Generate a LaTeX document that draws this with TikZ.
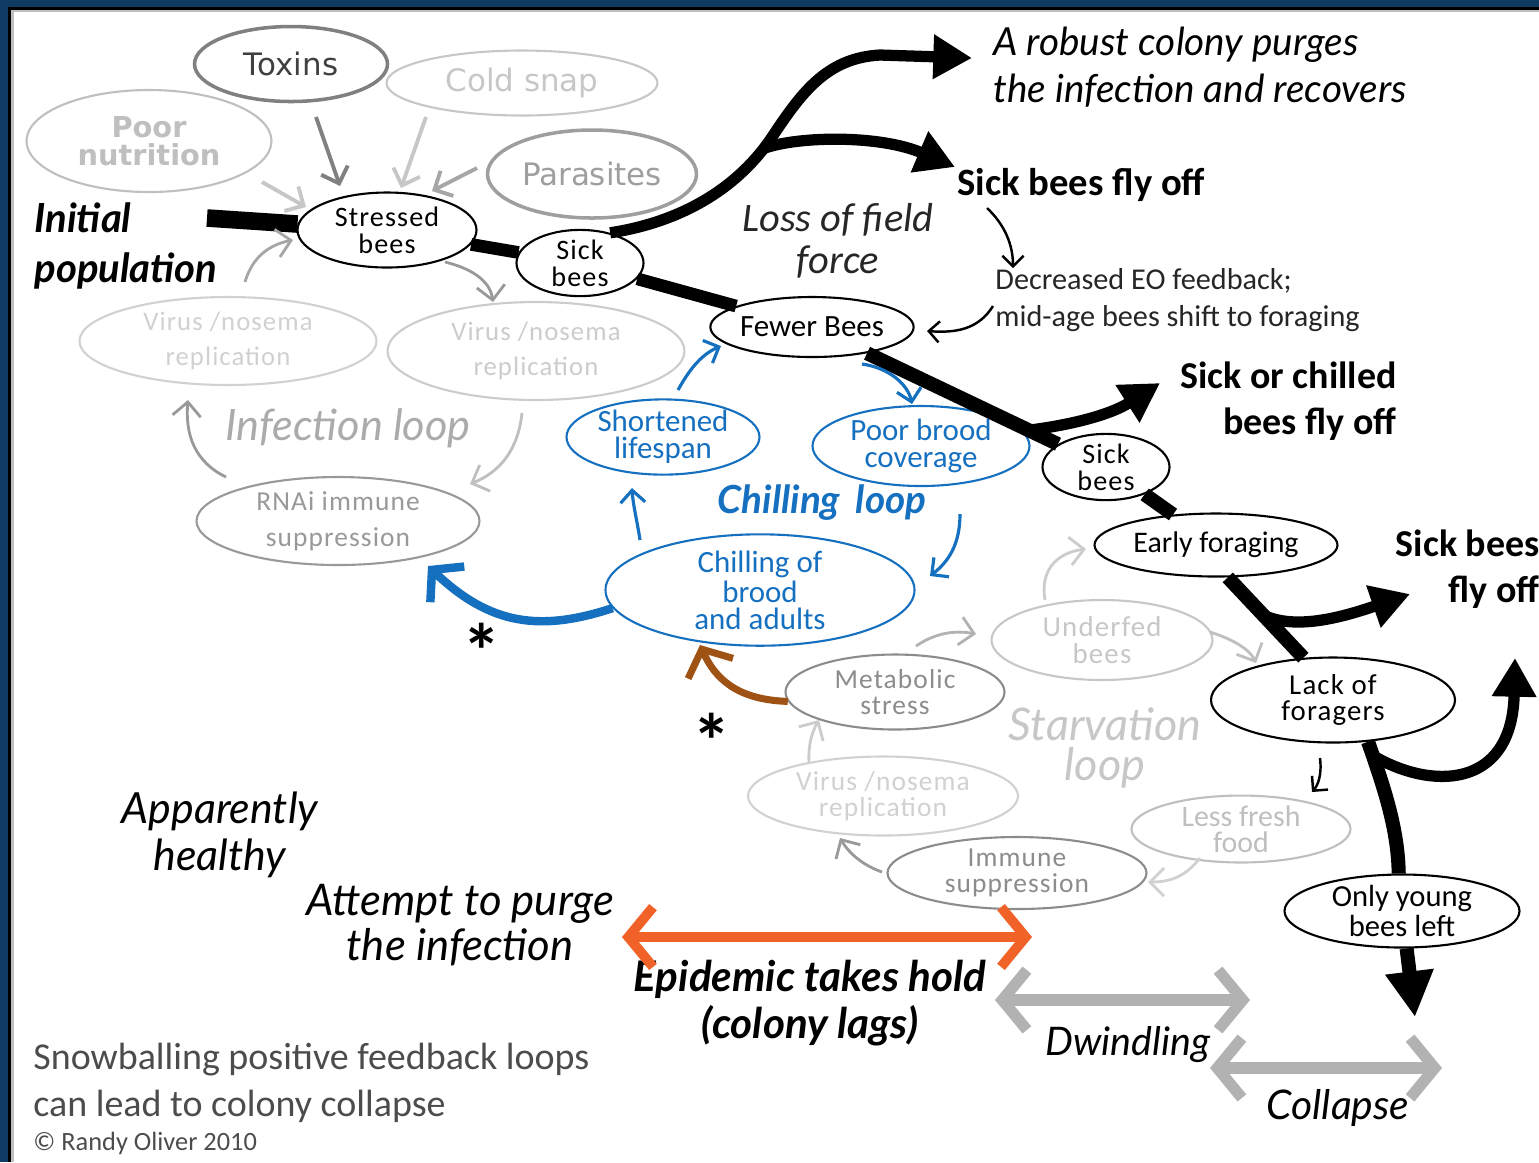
\documentclass[tikz,border=0pt]{standalone}
\usepackage{fontspec}
\setmainfont{Carlito}
\newfontfamily\handfont{Lato}
\newfontfamily\roundfont{DejaVu Sans}
\newfontfamily\spacedfont[LetterSpace=4]{Carlito}
\usetikzlibrary{shapes.geometric,arrows.meta}

\definecolor{frameblue}{RGB}{16,60,100}
\definecolor{loopblue}{RGB}{22,112,192}
\definecolor{purgeorange}{RGB}{240,98,40}
\definecolor{stressbrown}{RGB}{158,82,20}

\newcommand{\pxsize}[2]{\fontsize{#1}{#2}\selectfont}

\begin{document}
\begin{tikzpicture}
[
x=0.01cm, y=-0.01cm,
esize/.style 2 args={minimum width=#1*0.01cm, minimum height=#2*0.01cm},
blackell/.style={ellipse, draw=black, line width=0.6pt, fill=white, inner sep=0pt, align=center, font=\spacedfont\pxsize{8pt}{7.7pt}},
greyell/.style={ellipse, draw=black!#1, text=black!#1, line width=0.6pt, fill=white, inner sep=0pt, align=center, font=\spacedfont\pxsize{7.8pt}{7.6pt}},
blueell/.style={ellipse, draw=loopblue, text=loopblue, line width=0.6pt, fill=white, inner sep=0pt, align=center, font=\pxsize{8.8pt}{7.6pt}},
handtext/.style={font=\handfont\itshape\pxsize{11pt}{13.2pt}, align=center},
trunk/.style={draw=black, line width=4pt},
branch/.style={draw=black, line width=3.2pt, -{Triangle[length=11pt, width=12pt]}},
thinarrow/.style={draw=black, line width=0.7pt, -{Straight Barb[length=3pt, width=6pt]}},
greyarrow/.style={draw=#1, line width=1.1pt, -{Straight Barb[length=4pt, width=8pt]}},
bluearrow/.style={draw=loopblue, line width=0.9pt, -{Straight Barb[length=3.5pt, width=7pt]}},
bigarrow/.style={line width=2.4pt, -{Straight Barb[length=6pt, width=14pt]}},
stagearrow/.style={draw=#1, line width=3.2pt, {Straight Barb[length=7pt, width=17pt]}-{Straight Barb[length=7pt, width=17pt]}}
]
\useasboundingbox (0,0) rectangle (1539,1162);

%Causes
\node[greyell=25, esize={245}{102}, font=\roundfont\bfseries\pxsize{8.2pt}{8pt}] (nutrition) at (149,141) {Poor\\nutrition};
\node[greyell=50, esize={193}{75}, line width=1pt, text=black!75, font=\roundfont\pxsize{8.8pt}{9pt}] (toxins) at (291,64) {Toxins};
\node[greyell=22, esize={271}{65}, font=\roundfont\pxsize{8.8pt}{9pt}] (coldsnap) at (522,83) {Cold snap};
\node[greyell=38, esize={209}{88}, line width=1pt, font=\roundfont\pxsize{8.8pt}{9pt}] (parasites) at (592,174) {Parasites};

%Main line
\node[blackell, esize={179}{75}] (stressed) at (387,230) {Stressed\\bees};
\node[blackell, esize={127}{60}] (sick1) at (580,263) {Sick\\bees};
\node[blackell, esize={203}{60}, font=\pxsize{8.8pt}{9pt}] (fewer) at (812,327) {Fewer Bees};
\node[blackell, esize={127}{63}] (sick2) at (1106,467) {Sick\\bees};
\node[blackell, esize={243}{63}, font=\pxsize{8.5pt}{8pt}] (early) at (1216,545) {Early foraging};
\node[blackell, esize={244}{85}, font=\spacedfont\pxsize{8.2pt}{7.5pt}] (lack) at (1333,700) {Lack of\\foragers};
\node[blackell, esize={235}{73}, font=\pxsize{8.7pt}{7.5pt}] (young) at (1402,911) {Only young\\bees left};

%Infection loop
\node[greyell=18, esize={297}{88}, font=\spacedfont\pxsize{7.6pt}{10pt}] (virusleft) at (228,341) {Virus /nosema\\replication};
\node[greyell=20, esize={297}{98}, font=\spacedfont\pxsize{7.6pt}{10pt}] (virusmid) at (536,351) {Virus /nosema\\replication};
\node[greyell=40, esize={283}{88}, font=\spacedfont\pxsize{7.8pt}{10.2pt}] (rnai) at (338,521) {RNAi immune\\suppression};

%Chilling loop
\node[blueell, esize={193}{75}] (shortened) at (663,437) {Shortened\\lifespan};
\node[blueell, esize={217}{80}] (brood) at (921,446) {Poor brood\\coverage};
\node[blueell, esize={309}{100}] (chilling) at (760,590) {Chilling of\\brood\\and adults};

%Starvation loop
\node[greyell=22, esize={221}{80}, font=\spacedfont\pxsize{8.2pt}{7.7pt}] (underfed) at (1102,640) {Underfed\\bees};
\node[greyell=45, esize={219}{75}] (metabolic) at (895,692) {Metabolic\\stress};
\node[greyell=18, esize={270}{79}, font=\spacedfont\pxsize{7.8pt}{7.5pt}] (virusbottom) at (883,796) {Virus /nosema\\replication};
\node[greyell=25, esize={219}{65}, font=\pxsize{8.5pt}{7.5pt}] (freshfood) at (1241,829) {Less fresh\\food};
\node[greyell=45, esize={259}{72}] (immune) at (1017,873) {Immune\\suppression};

%Labels
\node[anchor=west, align=left, font=\handfont\bfseries\itshape\pxsize{11.4pt}{14.2pt}] (initial) at (22,246) {Initial\\population};
\node[handtext, anchor=west, align=left] (robust) at (981,67) {A robust colony purges\\the infection and recovers};
\node[anchor=west, font=\bfseries\pxsize{11pt}{12pt}] (sickfly) at (945,185) {Sick bees fly off};
\node[align=center, text=black!85, font=\itshape\pxsize{11.5pt}{12pt}] (fieldforce) at (838,241) {Loss of field\\force};
\node[anchor=west, align=left, text=black!85, font=\pxsize{8.6pt}{10.3pt}] (eofeed) at (983,300) {Decreased EO feedback;\\mid-age bees shift to foraging};
\node[anchor=east, align=right, font=\bfseries\pxsize{10.8pt}{13pt}] (sickchilled) at (1409,401) {Sick or chilled\\bees fly off};
\node[anchor=east, align=right, font=\bfseries\pxsize{10.8pt}{13pt}] (sickfly2) at (1552,569) {Sick bees\\fly off};
\node[handtext, text=black!33, font=\handfont\itshape\pxsize{12.3pt}{13pt}] (infloop) at (348,428) {Infection loop};
\node[text=loopblue, font=\handfont\bfseries\itshape\pxsize{11pt}{12pt}] (chillloop) at (822,503) {Chilling\hspace{0.4em}loop};
\node[handtext, text=black!22, font=\handfont\itshape\pxsize{12.8pt}{11.4pt}] (starvloop) at (1105,748) {Starvation\\loop};
\node[handtext, font=\handfont\itshape\pxsize{12.2pt}{13.2pt}] (healthy) at (220,835) {Apparently\\healthy};
\node[handtext, font=\handfont\itshape\pxsize{12.4pt}{13pt}] (attempt) at (460,925) {Attempt to purge\\the infection};
\node[handtext, font=\handfont\bfseries\itshape\pxsize{12pt}{13.4pt}] (epidemic) at (810,1003) {Epidemic takes hold\\(colony lags)};
\node[handtext, font=\handfont\itshape\pxsize{11.2pt}{13pt}] (dwindling) at (1128,1045) {Dwindling};
\node[handtext, font=\handfont\itshape\pxsize{11.6pt}{13pt}] (collapse) at (1338,1108) {Collapse};
\node[anchor=west, align=left, text=black!70, font=\pxsize{10.8pt}{13.4pt}] (snowball) at (21,1083) {Snowballing positive feedback loops\\can lead to colony collapse};
\node[anchor=west, text=black!70, font=\pxsize{7.5pt}{8pt}] (copyright) at (21,1143) {© Randy Oliver 2010};
\node[font=\bfseries\pxsize{22pt}{22pt}] (star1) at (482,651) {*};
\node[font=\bfseries\pxsize{22pt}{22pt}] (star2) at (712,741) {*};

%Free ends
\coordinate (popStart) at (207,218);
\coordinate (bendA) at (770,140);
\coordinate (forkA) at (765,148);
\coordinate (forkB) at (1030,430);
\coordinate (forkC) at (1263,615);
\coordinate (forkD) at (1372,755);
\coordinate (robustTip) at (972,58);
\coordinate (sickflyTip) at (955,167);
\coordinate (chilledTip) at (1160,383);
\coordinate (flyoffTip) at (1410,594);
\coordinate (lastTip) at (1515,658);
\coordinate (collapseTip) at (1415,1017);
\coordinate (eoA) at (987,208);
\coordinate (eoB) at (1013,268);
\coordinate (midA) at (993,306);
\coordinate (midB) at (927,331);
\coordinate (toxA) at (316,117);
\coordinate (toxB) at (340,186);
\coordinate (coldA) at (426,117);
\coordinate (coldB) at (401,188);
\coordinate (nutA) at (262,182);
\coordinate (nutB) at (306,207);
\coordinate (parA) at (477,168);
\coordinate (parB) at (432,191);
\coordinate (virA) at (245,282);
\coordinate (virB) at (293,240);
\coordinate (strA) at (445,262);
\coordinate (strB) at (493,302);
\coordinate (infA) at (522,413);
\coordinate (infB) at (470,484);
\coordinate (infC) at (226,477);
\coordinate (infD) at (188,400);
\coordinate (chlA) at (640,540);
\coordinate (chlB) at (632,488);
\coordinate (shoA) at (678,390);
\coordinate (shoB) at (721,346);
\coordinate (fewA) at (862,364);
\coordinate (fewB) at (912,404);
\coordinate (broA) at (960,514);
\coordinate (broB) at (930,576);
\coordinate (suppB) at (428,566);
\coordinate (metB) at (700,645);
\coordinate (stvA) at (916,646);
\coordinate (stvB) at (976,634);
\coordinate (stvC) at (1045,600);
\coordinate (stvD) at (1086,549);
\coordinate (stvE) at (1210,632);
\coordinate (stvF) at (1256,663);
\coordinate (stvG) at (1320,758);
\coordinate (stvH) at (1312,792);
\coordinate (stvI) at (1200,858);
\coordinate (stvJ) at (1148,882);
\coordinate (stvK) at (882,872);
\coordinate (stvL) at (840,838);
\coordinate (stvM) at (809,762);
\coordinate (stvN) at (819,720);
\coordinate (purgeL) at (622,937);
\coordinate (purgeR) at (1032,937);
\coordinate (dwinL) at (995,1000);
\coordinate (dwinR) at (1250,1000);
\coordinate (collL) at (1210,1068);
\coordinate (collR) at (1442,1068);

%Trunk
\draw[trunk, line width=5pt] (popStart) -- (stressed);
\draw[trunk, line width=3.6pt] (stressed) -- (sick1);
\draw[trunk, line width=3.6pt] (sick1) -- (fewer);
\draw[trunk] (fewer) -- (sick2);
\draw[trunk] (sick2) -- (early);
\draw[trunk] (early.290) -- (lack.125);
\draw[trunk] (lack.310) .. controls (1385,790) and (1398,830) .. (young.95);
\draw[trunk, -{Triangle[length=13pt, width=13pt]}] (young) -- (collapseTip);

%Branches
\draw[branch] (sick1.45) .. controls (680,222) and (735,190) .. (bendA) .. controls (800,95) and (825,58) .. (880,55) -- (robustTip);
\draw[branch] (forkA) .. controls (800,136) and (880,135) .. (sickflyTip);
\draw[branch] (forkB) .. controls (1070,425) and (1110,415) .. (chilledTip);
\draw[branch] (forkC) .. controls (1295,630) and (1340,618) .. (flyoffTip);
\draw[branch] (forkD) .. controls (1430,790) and (1512,790) .. (lastTip);

%Thin arrows
\draw[thinarrow] (eoA) .. controls (1005,225) and (1013,245) .. (eoB);
\draw[thinarrow] (midA) .. controls (978,330) and (955,333) .. (midB);
\draw[thinarrow] (stvG) .. controls (1322,775) and (1318,785) .. (stvH);

%Stress inputs
\draw[greyarrow=black!50] (toxA) -- (toxB);
\draw[greyarrow=black!22] (coldA) -- (coldB);
\draw[greyarrow=black!22] (nutA) -- (nutB);
\draw[greyarrow=black!35] (parA) -- (parB);
\draw[greyarrow=black!35, line width=0.8pt] (virA) .. controls (252,258) and (268,245) .. (virB);
\draw[greyarrow=black!40, line width=0.8pt] (strA) .. controls (470,268) and (490,280) .. (strB);
\draw[greyarrow=black!25, line width=0.8pt] (infA) .. controls (518,450) and (500,472) .. (infB);
\draw[greyarrow=black!40, line width=0.8pt] (infC) .. controls (195,462) and (185,435) .. (infD);

%Chilling loop arrows
\draw[bluearrow] (chlA) .. controls (637,520) and (633,505) .. (chlB);
\draw[bluearrow] (shoA) .. controls (688,372) and (700,355) .. (shoB);
\draw[bluearrow] (fewA) .. controls (890,368) and (908,385) .. (fewB);
\draw[bluearrow] (broA) .. controls (960,545) and (948,562) .. (broB);
\draw[bigarrow, draw=loopblue] (chilling.187) .. controls (540,632) and (490,625) .. (suppB);
\draw[bigarrow, draw=stressbrown, line width=2pt] (metabolic.185) .. controls (745,700) and (718,685) .. (metB);

%Starvation loop arrows
\draw[greyarrow=black!30, line width=0.8pt] (stvA) .. controls (935,633) and (955,630) .. (stvB);
\draw[greyarrow=black!20, line width=0.8pt] (stvC) .. controls (1040,572) and (1055,553) .. (stvD);
\draw[greyarrow=black!25, line width=0.8pt] (stvE) .. controls (1235,640) and (1250,650) .. (stvF);
\draw[greyarrow=black!18, line width=0.8pt] (stvI) .. controls (1185,877) and (1170,882) .. (stvJ);
\draw[greyarrow=black!40, line width=0.8pt] (stvK) .. controls (865,866) and (850,855) .. (stvL);
\draw[greyarrow=black!20, line width=0.8pt] (stvM) .. controls (808,745) and (812,732) .. (stvN);

%Stages
\draw[stagearrow=purgeorange, line width=2.8pt] (purgeL) -- (purgeR);
\draw[stagearrow=black!30] (dwinL) -- (dwinR);
\draw[stagearrow=black!30] (collL) -- (collR);

%Frame
\fill[frameblue] (0,0) rectangle (1539,7);
\fill[frameblue] (0,0) rectangle (9,1162);
\draw[black, line width=0.9pt] (10,1162) -- (10,8.5) -- (1539,8.5);
\draw[black!25, line width=0.6pt] (12.5,1162) -- (12.5,11) -- (1539,11);
\end{tikzpicture}
\end{document}
